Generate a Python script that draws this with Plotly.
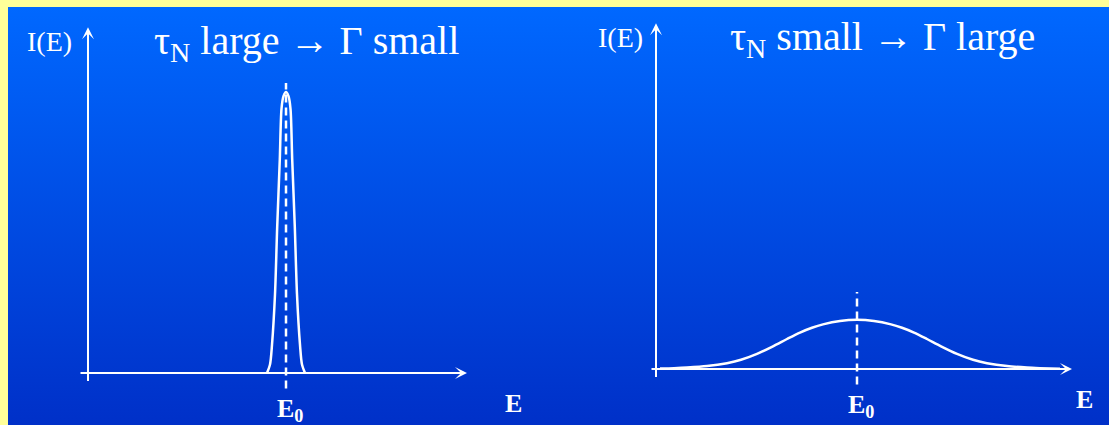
import base64
import plotly.graph_objects as go

# Narrow line (long lifetime): energy offset from E0 and intensity
narrow_E = [-0.19, -0.16, -0.14, -0.11, -0.088, -0.062, -0.045, -0.025, 0.0,
            0.025, 0.045, 0.062, 0.088, 0.11, 0.14, 0.16, 0.19]
narrow_I = [0.0, 0.03, 0.10, 0.28, 0.52, 0.76, 0.94, 0.985, 1.0,
            0.985, 0.94, 0.76, 0.52, 0.28, 0.10, 0.03, 0.0]

# Broad line (short lifetime)
broad_E = [-1.97, -1.83, -1.70, -1.50, -1.30, -1.16, -1.00, -0.84, -0.70,
           -0.57, -0.45, -0.34, -0.17, 0.0, 0.17, 0.34, 0.45, 0.57, 0.70,
           0.84, 1.00, 1.16, 1.30, 1.50, 1.70, 1.83, 2.03]
broad_I = [0.0018, 0.0032, 0.0053, 0.0105, 0.021, 0.033, 0.054, 0.081, 0.107,
           0.130, 0.147, 0.159, 0.171, 0.175, 0.171, 0.159, 0.147, 0.130, 0.107,
           0.081, 0.054, 0.033, 0.021, 0.0105, 0.0053, 0.0032, 0.001]

# Axis extents (energy / intensity units)
axis_E_start = -2.07
axis_E_end = [1.81, 2.15]
axis_I_top = 1.23
axis_I_tail = -0.034
y_axis_E = [-1.98, -2.01]
dash_top = [1.032, 0.274]
dash_bottom = -0.055

titles = ["τ<sub>N</sub> large → Γ small", "τ<sub>N</sub> small → Γ large"]
title_E = [0.20, 0.25]
ylabel = "I(E)"
xlabel = "E"
e0_label = "E<sub>0</sub>"

WHITE = "white"
SERIF = "Liberation Serif, Times New Roman, serif"

fig = go.Figure()

curves = [(narrow_E, narrow_I), (broad_E, broad_I)]
for i, (ex, iy) in enumerate(curves):
    xa = "x" if i == 0 else "x2"
    ya = "y" if i == 0 else "y2"
    fig.add_trace(go.Scatter(
        x=ex, y=iy, mode="lines", xaxis=xa, yaxis=ya,
        line=dict(color=WHITE, width=2.5, shape="spline", smoothing=0.8),
        hoverinfo="skip", showlegend=False))
    # dashed marker at the line centre E0
    fig.add_trace(go.Scatter(
        x=[0, 0], y=[dash_bottom, dash_top[i]], mode="lines", xaxis=xa, yaxis=ya,
        line=dict(color=WHITE, width=2.5, dash="8px,5px"),
        hoverinfo="skip", showlegend=False))

annotations = []
for i in range(2):
    xr = "x" if i == 0 else "x2"
    yr = "y" if i == 0 else "y2"
    # energy axis arrow
    annotations.append(dict(
        x=axis_E_end[i], y=0, ax=axis_E_start, ay=0,
        xref=xr, yref=yr, axref=xr, ayref=yr, text="",
        showarrow=True, arrowhead=3, arrowsize=1.0, arrowwidth=2,
        arrowcolor=WHITE, standoff=0))
    # intensity axis arrow
    annotations.append(dict(
        x=y_axis_E[i], y=axis_I_top, ax=y_axis_E[i], ay=axis_I_tail,
        xref=xr, yref=yr, axref=xr, ayref=yr, text="",
        showarrow=True, arrowhead=3, arrowsize=1.0, arrowwidth=2,
        arrowcolor=WHITE, standoff=0))
    annotations.append(dict(
        x=-2.37, y=1.18, xref=xr, yref=yr, text=ylabel, showarrow=False,
        xanchor="center", yanchor="middle",
        font=dict(family=SERIF, size=28, color=WHITE)))
    annotations.append(dict(
        x=title_E[i], y=1.175, xref=xr, yref=yr, text=titles[i], showarrow=False,
        xanchor="center", yanchor="middle",
        font=dict(family=SERIF, size=40, color=WHITE)))
    annotations.append(dict(
        x=0.04, y=-0.13, xref=xr, yref=yr, text="<b>" + e0_label + "</b>",
        showarrow=False, xanchor="center", yanchor="middle",
        font=dict(family=SERIF, size=26, color=WHITE)))
    annotations.append(dict(
        x=2.27, y=-0.11, xref=xr, yref=yr, text="<b>" + xlabel + "</b>",
        showarrow=False, xanchor="center", yanchor="middle",
        font=dict(family=SERIF, size=26, color=WHITE)))

# vertical blue gradient panel inside the yellow frame
svg = ('<svg xmlns="http://www.w3.org/2000/svg" width="1101" height="418" '
       'preserveAspectRatio="none">'
       '<defs><linearGradient id="g" x1="0" y1="0" x2="0" y2="1">'
       '<stop offset="0" stop-color="#0068ff"/>'
       '<stop offset="1" stop-color="#0030c8"/>'
       '</linearGradient></defs>'
       '<rect width="1101" height="418" fill="url(#g)"/></svg>')
src = "data:image/svg+xml;base64," + base64.b64encode(svg.encode()).decode()

W, H = 1109, 425
fig.update_layout(
    width=W, height=H,
    margin=dict(l=0, r=0, t=0, b=0),
    paper_bgcolor="#ffff99",
    plot_bgcolor="rgba(0,0,0,0)",
    showlegend=False,
    annotations=annotations,
    images=[dict(source=src, xref="paper", yref="paper",
                 x=8 / W, y=1 - 7 / H, sizex=1 - 8 / W, sizey=1 - 7 / H,
                 xanchor="left", yanchor="top", sizing="stretch",
                 layer="below")],
    xaxis=dict(domain=[0, 0.5], range=[-2.86, 2.685], visible=False, fixedrange=True),
    yaxis=dict(domain=[0, 1], range=[-0.185, 1.327], visible=False, fixedrange=True),
    xaxis2=dict(domain=[0.5, 1], range=[-3.025, 2.52], visible=False, fixedrange=True),
    yaxis2=dict(domain=[0, 1], range=[-0.199, 1.313], visible=False, fixedrange=True,
                anchor="x2"),
)

fig.write_html("out.html", config={"displayModeBar": False})
